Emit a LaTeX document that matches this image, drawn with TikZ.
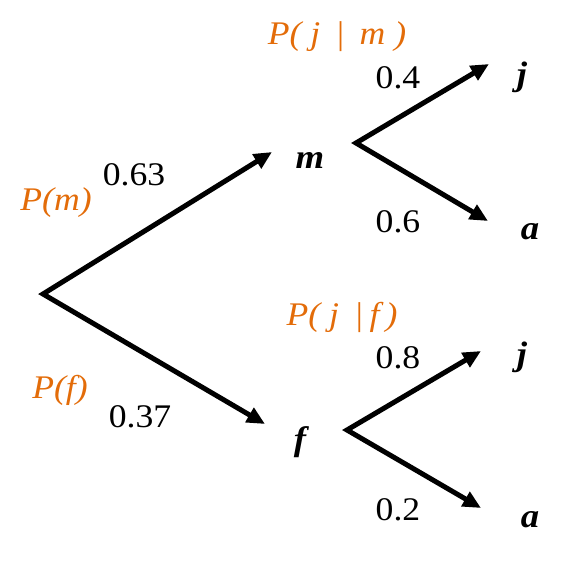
\documentclass[tikz,border=0pt]{standalone}
\usepackage{fontspec}
\setmainfont{Liberation Serif}
\usetikzlibrary{arrows.meta}
\definecolor{porange}{HTML}{E36C09}
\begin{document}
\begin{tikzpicture}[x=1pt,y=-1pt,
  fork/.style={line width=5pt,line join=miter,{Triangle[length=18pt,width=16pt]}-{Triangle[length=18pt,width=16pt]}},
  lbl/.style={inner sep=0pt,xscale=1.08,font=\fontsize{33}{40}\selectfont},
  var/.style={inner sep=0pt,xscale=1.08,font=\fontsize{34}{40}\selectfont\bfseries\itshape},
  prob/.style={inner sep=0pt,xscale=1.08,text=porange,font=\fontsize{33}{40}\selectfont\itshape}]
\useasboundingbox (0,0) rectangle (586,560);
% points
\coordinate (root) at (43,294);
\coordinate (mtip) at (272,152);
\coordinate (ftip) at (265,424);
\coordinate (mb) at (356,143);
\coordinate (mjtip) at (489,64);
\coordinate (matip) at (488,221);
\coordinate (fb) at (347,430);
\coordinate (fjtip) at (481,351);
\coordinate (fatip) at (481,508);
% labels
\node[var] (m) at (310,160) {m};
\node[var] (f) at (300,442) {f};
\node[var] (mj) at (522,77) {j};
\node[var] (ma) at (530,232) {a};
\node[var] (fj) at (522,357) {j};
\node[var] (fa) at (530,520) {a};
\node[lbl] (p63) at (134,175) {0.63};
\node[lbl] (p37) at (140,417) {0.37};
\node[lbl] (p4) at (398,78) {0.4};
\node[lbl] (p6) at (398,222) {0.6};
\node[lbl] (p8) at (398,358) {0.8};
\node[lbl] (p2) at (398,510) {0.2};
\node[prob] (Pm) at (56,203) {P(m)};
\node[prob] (Pf) at (60,390) {P(f)};
\node[prob] (Pjm) at (337,37) {P( j \,|\, m )};
\node[prob] (Pjf) at (342,317) {P( j \,|\,f\,)};
% edges (each fork drawn as one path for a sharp apex)
\draw[fork] (mtip) -- (root) -- (ftip);
\draw[fork] (mjtip) -- (mb) -- (matip);
\draw[fork] (fjtip) -- (fb) -- (fatip);
\end{tikzpicture}
\end{document}
